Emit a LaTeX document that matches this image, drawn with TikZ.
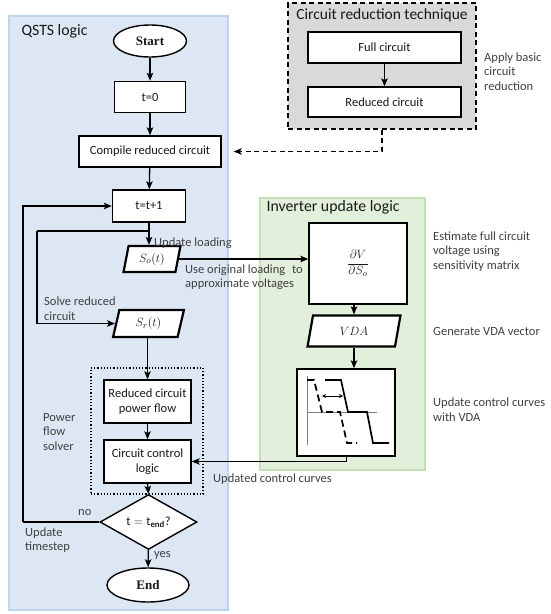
\documentclass[tikz,border=0pt]{standalone}
\usepackage{fontspec}
\setmainfont{Carlito}
\newfontfamily\headserif{Liberation Serif}
\usetikzlibrary{shapes.geometric,arrows.meta,calc}

\definecolor{qblue}{RGB}{221,231,243}
\definecolor{qblueline}{RGB}{190,212,235}
\definecolor{igreen}{RGB}{226,239,218}
\definecolor{igreenline}{RGB}{197,224,180}
\definecolor{cgray}{RGB}{217,217,217}
\definecolor{lbltext}{RGB}{64,64,64}
\definecolor{axisgray}{RGB}{128,128,128}

\begin{document}
\begin{tikzpicture}[x=1pt,y=-1pt,
  every node/.style={font=\fontsize{12.5}{14.5}\selectfont, text=black!90},
  panel/.style={rectangle, inner sep=0, line width=1.2pt},
  title/.style={font=\fontsize{15.8}{18}\selectfont, anchor=west},
  procbox/.style={rectangle, draw, line width=1.4pt, fill=white, inner sep=1pt, align=center},
  iobox/.style={trapezium, trapezium left angle=77, trapezium right angle=103,
    trapezium stretches=true, draw=black, fill=white, inner sep=0, line width=2.2pt},
  terminal/.style={ellipse, draw, line width=1.4pt, fill=white, inner sep=0,
    font=\headserif\bfseries\fontsize{13}{15}\selectfont},
  decision/.style={diamond, draw, line width=1.4pt, fill=white, inner sep=0},
  lbl/.style={text=lbltext, align=left, anchor=west, inner sep=0},
  arr/.style={-{Stealth[length=8pt,width=6.5pt,inset=1.8pt]}, line width=1.3pt},
  dasharr/.style={-{Stealth[length=8pt,width=6.5pt,inset=1.8pt]}, line width=1.3pt,
    dash pattern=on 5pt off 3.5pt},
  curve/.style={line width=1.7pt},
]
\useasboundingbox (0,0) rectangle (551,614);

% ---------- panels ----------
\node[panel, fill=qblue, draw=qblueline, minimum width=219, minimum height=594] (qsts) at (118.5,313) {};
\node[title] (qststitle) at (18,31) {QSTS logic};

\node[panel, fill=cgray, draw=black, dash pattern=on 5pt off 3.5pt, line width=1.3pt,
      minimum width=188, minimum height=126] (crt) at (382,66) {};
\node[font=\fontsize{15.5}{18}\selectfont] (crttitle) at (382,15) {Circuit reduction technique};

\node[panel, fill=igreen, draw=igreenline, minimum width=165, minimum height=272] (iul) at (342.5,334) {};
\node[title] (iultitle) at (263,207) {Inverter update logic};

% ---------- QSTS main flow ----------
\node[terminal, minimum width=73, minimum height=32] (start) at (150,41) {Start};
\node[procbox, minimum width=71, minimum height=31] (t0) at (150,97) {t=0};
\node[procbox, minimum width=142, minimum height=31] (compile) at (150,151.5) {Compile reduced circuit};
\node[procbox, minimum width=73, minimum height=32] (tinc) at (149,206) {t=t+1};
\node[iobox, minimum width=57, minimum height=26] (so) at (152,259) {$S_o(t)$};
\node[iobox, minimum width=71, minimum height=27] (sr) at (148.5,323.5) {$S_r(t)$};

\node[panel, draw=black, line width=1.2pt, dotted, minimum width=112, minimum height=126] (pfs) at (147,431) {};
\node[procbox, minimum width=87, minimum height=43] (pf) at (147.5,401.5) {Reduced circuit\\power flow};
\node[procbox, minimum width=87, minimum height=43] (ccl) at (147.5,461.5) {Circuit control\\logic};

\node[decision, minimum width=97, minimum height=46] (dec) at (148.5,522) {$\mathrm{t}=\mathrm{t}_{\mathbf{end}}$?};
\node[terminal, minimum width=82, minimum height=34] (end) at (148,585) {End};

\draw[arr] (start) -- (t0);
\draw[arr] (t0) -- (compile);
\draw[arr] (compile) -- (tinc);
\draw[arr] (tinc.south) -- (tinc.south |- so.north);
\draw[arr] (sr.south -| pf.north) -- (pf.north);
\draw[arr] (pf) -- (ccl);
\draw[arr] (ccl.south) -- (dec.north);
\draw[arr] (dec) -- (end);

% reduced-circuit branch
\coordinate (branch) at (149,231);
\coordinate (loopa) at (37,231);
\draw[line width=1.3pt] (branch) -- (loopa);
\draw[arr] (loopa) |- (sr.west);

% time-step loop
\coordinate (loopb) at (23,522);
\draw[line width=1.3pt] (dec.west) -- (loopb);
\draw[arr] (loopb) |- (tinc.west);

% ---------- circuit reduction ----------
\node[procbox, minimum width=153, minimum height=31] (full) at (384.5,47.5) {Full circuit};
\node[procbox, minimum width=153, minimum height=30] (red) at (384.5,102) {Reduced circuit};
\draw[arr] (full) -- (red);
\draw[dasharr, shorten >=12pt] (crt.south) |- (compile.east);

% ---------- inverter update ----------
\node[procbox, minimum width=98, minimum height=81] (dv) at (358,263.5) {$\displaystyle\frac{\partial V}{\partial S_o}$};
\node[iobox, minimum width=93, minimum height=31] (vda) at (354,331) {$VDA$};
\node[procbox, minimum width=98, minimum height=87] (curves) at (346,412.5) {};

\draw[arr] (so.east) -- (so.east -| dv.west);
\draw[arr] (vda.north |- dv.south) -- (vda.north);
\draw[arr] (vda.south) -- (vda.south |- curves.north);
\draw[arr, line width=1pt] (curves.south) |- (ccl.east);

% control curves sketch
\draw[axisgray, line width=0.9pt] (307,376) -- (307,445);
\draw[axisgray, line width=0.9pt] (307,412) -- (377,412);
\draw[curve] (325,380) -- (341,380) -- (348,412) -- (367,412) -- (373,443) -- (389,443);
\draw[curve, dash pattern=on 7pt off 4pt] (307,380) -- (314,380) -- (322,412) -- (340,412) -- (347,443) -- (357,443);
\draw[{Stealth[length=4pt,width=4pt]}-{Stealth[length=4pt,width=4pt]}, line width=1pt] (322,396) -- (343,396);

% ---------- annotations ----------
\node[lbl] (lupd) at (154,243.5) {Update loading};
\node[lbl] (luse) at (185,277) {Use original loading\hspace{4pt} to\\approximate voltages};
\node[lbl] (lsolve) at (44,308.5) {Solve reduced\\circuit};
\node[lbl] (lpfs) at (43,432) {Power\\flow\\solver};
\node[lbl] (lno) at (78,513) {no};
\node[lbl] (lstep) at (25,540) {Update\\timestep};
\node[lbl] (lyes) at (154,555) {yes};
\node[lbl] (lucc) at (213,479) {Updated control curves};
\node[lbl] (lapply) at (484,71.5) {Apply basic\\circuit\\reduction};
\node[lbl] (lest) at (433,251.5) {Estimate full circuit\\voltage using\\sensitivity matrix};
\node[lbl] (lgen) at (433,331) {Generate VDA vector};
\node[lbl] (lctl) at (433,409.5) {Update control curves\\with VDA};
\end{tikzpicture}
\end{document}
